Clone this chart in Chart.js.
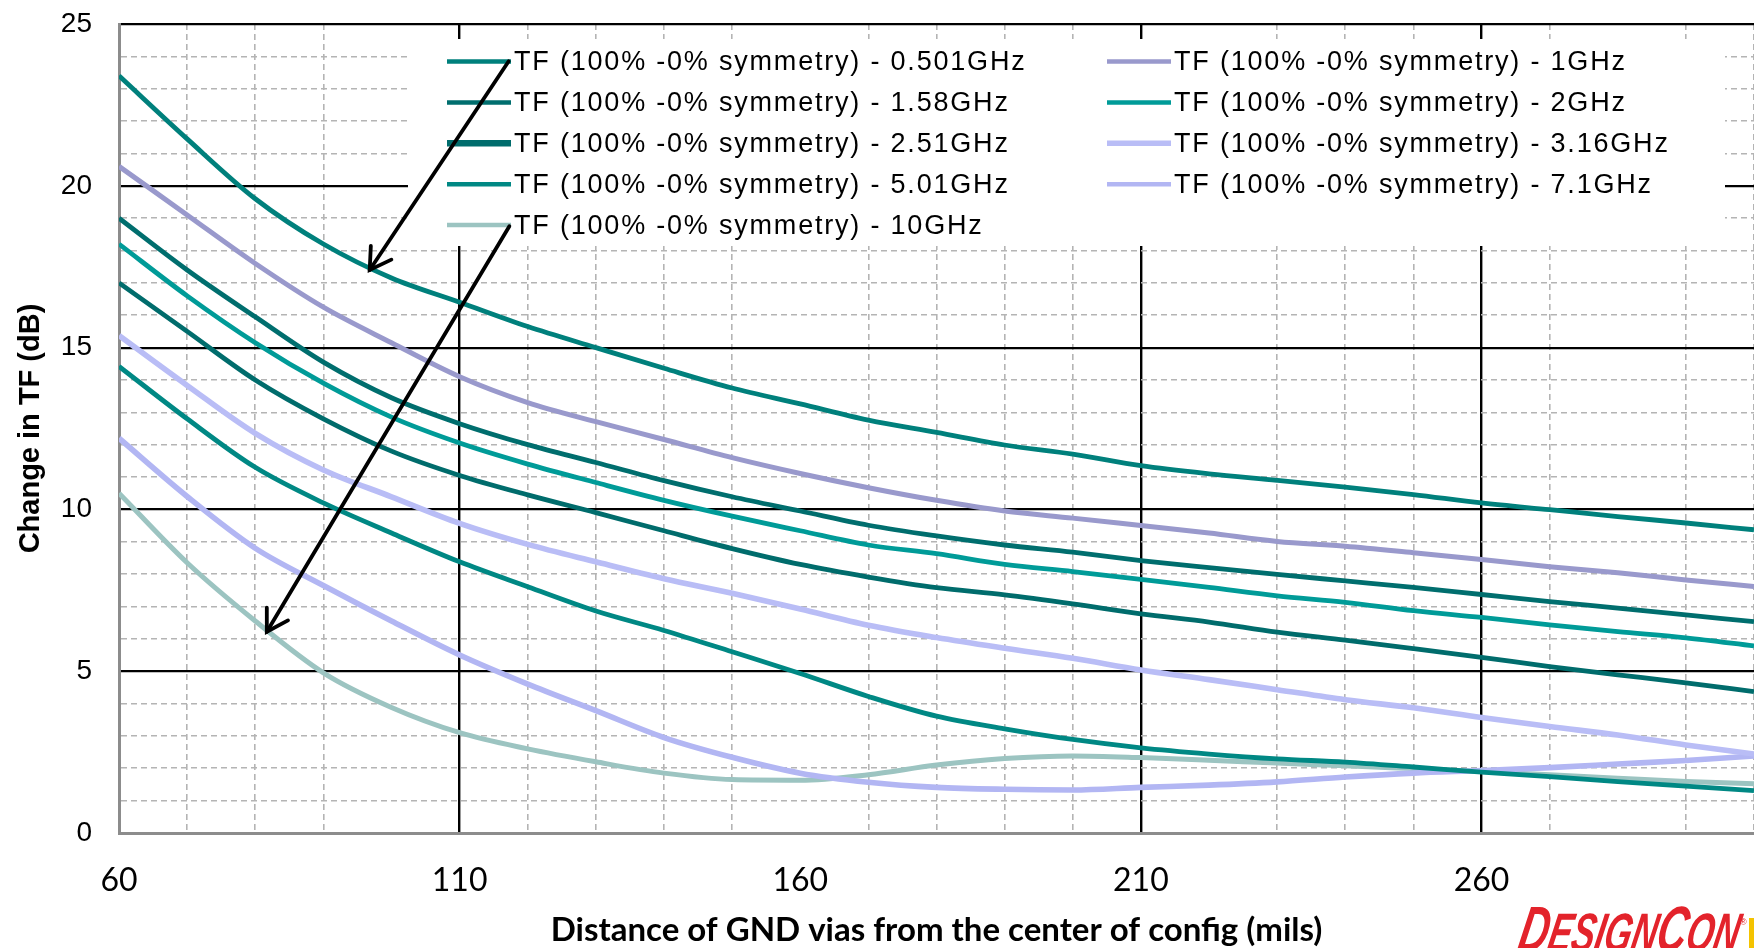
<!DOCTYPE html>
<html>
<head>
<meta charset="utf-8">
<script src="https://cdn.jsdelivr.net/npm/chart.js@4.4.0/dist/chart.umd.min.js"></script>
<style>
  html, body { margin: 0; padding: 0; background: #fff; overflow: hidden; }
  #wrap { position: relative; width: 1754px; height: 948px; }
</style>
</head>
<body>
<div id="wrap">
  <canvas id="chart" width="1754" height="948"></canvas>
</div>
<script>
// distance of GND vias (mils)
const distances = [60, 70, 80, 90, 100, 110, 120, 130, 140, 150, 160, 170, 180,
  190, 200, 210, 220, 230, 240, 250, 260, 270, 280, 290, 300];

// change in TF (dB), one array per frequency
const tf0501 = [23.4, 21.45, 19.6, 18.2, 17.15, 16.4, 15.65, 15.0, 14.36, 13.75, 13.26, 12.76, 12.38,
  11.99, 11.71, 11.35, 11.1, 10.9, 10.69, 10.46, 10.2, 9.99, 9.78, 9.58, 9.37];
const tf1 = [20.6, 19.1, 17.6, 16.25, 15.15, 14.1, 13.3, 12.71, 12.16, 11.6, 11.11, 10.67, 10.28,
  9.95, 9.73, 9.5, 9.27, 9.01, 8.86, 8.66, 8.45, 8.23, 8.04, 7.82, 7.62];
const tf158 = [19.0, 17.4, 15.95, 14.55, 13.45, 12.65, 12.0, 11.45, 10.89, 10.39, 9.95, 9.51, 9.18,
  8.9, 8.68, 8.42, 8.2, 7.99, 7.79, 7.59, 7.37, 7.15, 6.95, 6.74, 6.53];
const tf2 = [18.2, 16.6, 15.15, 13.9, 12.85, 12.05, 11.4, 10.83, 10.28, 9.79, 9.34, 8.9, 8.63,
  8.3, 8.08, 7.84, 7.59, 7.33, 7.13, 6.87, 6.66, 6.43, 6.22, 6.03, 5.78];
const tf251 = [17.0, 15.5, 14.0, 12.8, 11.8, 11.05, 10.45, 9.9, 9.34, 8.79, 8.3, 7.91, 7.58,
  7.36, 7.08, 6.77, 6.52, 6.21, 5.96, 5.7, 5.43, 5.14, 4.89, 4.64, 4.37];
const tf316 = [15.37, 13.83, 12.35, 11.22, 10.39, 9.57, 8.92, 8.38, 7.86, 7.41, 6.92, 6.42, 6.04,
  5.71, 5.4, 5.04, 4.74, 4.43, 4.12, 3.87, 3.57, 3.29, 3.03, 2.72, 2.44];
const tf501 = [14.42, 12.8, 11.3, 10.2, 9.27, 8.38, 7.61, 6.86, 6.26, 5.6, 4.93, 4.22, 3.61,
  3.22, 2.89, 2.63, 2.44, 2.29, 2.19, 2.04, 1.88, 1.74, 1.59, 1.45, 1.31];
const tf71 = [12.2, 10.4, 8.8, 7.65, 6.55, 5.5, 4.6, 3.78, 2.95, 2.34, 1.85, 1.57, 1.41,
  1.35, 1.33, 1.41, 1.48, 1.58, 1.73, 1.85, 1.93, 2.02, 2.13, 2.24, 2.38];
const tf10 = [10.5, 8.35, 6.55, 4.95, 3.88, 3.1, 2.6, 2.2, 1.85, 1.65, 1.63, 1.8, 2.1,
  2.3, 2.38, 2.33, 2.25, 2.16, 2.08, 1.99, 1.9, 1.8, 1.69, 1.59, 1.52];

const seriesLabels = [
  "TF (100% -0% symmetry) - 0.501GHz",
  "TF (100% -0% symmetry) - 1GHz",
  "TF (100% -0% symmetry) - 1.58GHz",
  "TF (100% -0% symmetry) - 2GHz",
  "TF (100% -0% symmetry) - 2.51GHz",
  "TF (100% -0% symmetry) - 3.16GHz",
  "TF (100% -0% symmetry) - 5.01GHz",
  "TF (100% -0% symmetry) - 7.1GHz",
  "TF (100% -0% symmetry) - 10GHz",
];
const seriesValues = [tf0501, tf1, tf158, tf2, tf251, tf316, tf501, tf71, tf10];

const seriesColors = ["#00807c", "#9999cc", "#006e6e", "#009b98", "#006c6c",
  "#b9bdf6", "#008884", "#b2b6f3", "#9cc4c1"];
const lineWidths = [4.8, 5, 4.8, 4.8, 4.8, 5.6, 4.8, 5.6, 5];
const legendWidths = [4.5, 4.5, 4.5, 4.5, 6.5, 5.5, 4.5, 4.5, 4.5];

// annotation arrows, in data units [distance, dB]
const arrowFrom = [[117.2, 23.85], [117.3, 18.75]];
const arrowTo = [[96.8, 17.4], [81.7, 6.22]];

// vertical grid lines that are absent in the original
const missingGridX = [100, 160, 220, 280];

const legendBox = { left: 408, top: 39, right: 1725, bottom: 246,
  colX: [447, 1107], rowY0: 61.5, rowGap: 40.9, swatch: 64 };

const boxLegend = {
  id: "boxLegend",
  beforeDatasetsDraw(chart) {
    const ctx = chart.ctx;
    ctx.save();
    ctx.fillStyle = "#fff";
    ctx.fillRect(legendBox.left, legendBox.top,
      legendBox.right - legendBox.left, legendBox.bottom - legendBox.top);
    ctx.font = '27px "Liberation Sans", Arial, sans-serif';
    if ("letterSpacing" in ctx) ctx.letterSpacing = "1.8px";
    ctx.textBaseline = "middle";
    chart.data.datasets.forEach((ds, i) => {
      const x = legendBox.colX[i % 2];
      const y = legendBox.rowY0 + Math.floor(i / 2) * legendBox.rowGap;
      ctx.strokeStyle = ds.borderColor;
      ctx.lineWidth = ds.legendWidth;
      ctx.lineCap = "butt";
      ctx.beginPath();
      ctx.moveTo(x, y);
      ctx.lineTo(x + legendBox.swatch, y);
      ctx.stroke();
      ctx.fillStyle = "#000";
      ctx.fillText(ds.label, x + legendBox.swatch + 3, y + 1);
    });
    ctx.restore();
  },
};

const arrowsAndLogo = {
  id: "arrowsAndLogo",
  afterDatasetsDraw(chart) {
    const ctx = chart.ctx;
    const xs = chart.scales.x;
    const ys = chart.scales.y;
    ctx.save();
    ctx.strokeStyle = "#000";
    ctx.lineWidth = 3.8;
    ctx.lineCap = "round";
    arrowFrom.forEach((from, i) => {
      const x1 = xs.getPixelForValue(from[0]);
      const y1 = ys.getPixelForValue(from[1]);
      const x2 = xs.getPixelForValue(arrowTo[i][0]);
      const y2 = ys.getPixelForValue(arrowTo[i][1]);
      ctx.beginPath();
      ctx.moveTo(x1, y1);
      ctx.lineTo(x2, y2);
      ctx.stroke();
      const back = Math.atan2(y1 - y2, x1 - x2);
      const spread = 0.54;
      ctx.beginPath();
      ctx.moveTo(x2 + 24 * Math.cos(back - spread), y2 + 24 * Math.sin(back - spread));
      ctx.lineTo(x2, y2);
      ctx.lineTo(x2 + 24 * Math.cos(back + spread), y2 + 24 * Math.sin(back + spread));
      ctx.stroke();
    });
    ctx.restore();
  },
  afterDraw(chart) {
    // DesignCon logo, bottom right
    const ctx = chart.ctx;
    const parts = [["D", 64], ["ESIGN", 54], ["C", 64], ["ON", 54]];
    ctx.save();
    let total = 0;
    parts.forEach((p) => {
      ctx.font = 'italic bold ' + p[1] + 'px "Liberation Sans", Arial, sans-serif';
      total += ctx.measureText(p[0]).width;
    });
    const sx = 220 / total;
    ctx.setTransform(sx, 0, -0.2, 1, 1516, 951);
    ctx.fillStyle = "#e3232b";
    let x = 0;
    parts.forEach((p) => {
      ctx.font = 'italic bold ' + p[1] + 'px "Liberation Sans", Arial, sans-serif';
      ctx.fillText(p[0], x, 0);
      x += ctx.measureText(p[0]).width;
    });
    ctx.setTransform(1, 0, 0, 1, 0, 0);
    ctx.font = '9px "Liberation Sans", Arial, sans-serif';
    ctx.fillText("®", 1740, 925);
    ctx.fillStyle = "#f4c300";
    ctx.fillRect(1749, 918, 5, 30);
    ctx.restore();
  },
};

function gridColor(isMajor, hidden) {
  if (hidden) return "rgba(0,0,0,0)";
  return isMajor ? "#000" : "#b4b4b4";
}

new Chart(document.getElementById("chart"), {
  type: "line",
  data: {
    datasets: seriesValues.map((vals, i) => ({
      label: seriesLabels[i],
      data: distances.map((d, j) => ({ x: d, y: vals[j] })),
      borderColor: seriesColors[i],
      borderWidth: lineWidths[i],
      legendWidth: legendWidths[i],
      pointRadius: 0,
      cubicInterpolationMode: "monotone",
      fill: false,
    })),
  },
  options: {
    responsive: false,
    animation: false,
    devicePixelRatio: 1,
    layout: { padding: { top: 24, right: 0, bottom: 0, left: 0 } },
    plugins: { legend: { display: false }, tooltip: { enabled: false } },
    scales: {
      x: {
        type: "linear",
        min: 60,
        max: 300,
        afterFit: (s) => { s.height = 115; s.paddingLeft = 0; s.paddingRight = 0; },
        ticks: {
          stepSize: 10,
          autoSkip: false,
          maxRotation: 0,
          padding: 28,
          color: "#000",
          font: { family: "Lato", size: 32 },
          callback: (v) => ((v - 60) % 50 === 0 ? String(v) : ""),
        },
        grid: {
          drawTicks: false,
          color: (c) => gridColor((c.tick.value - 60) % 50 === 0,
            c.tick.value === 60 || missingGridX.includes(c.tick.value)),
          lineWidth: (c) => ((c.tick.value - 60) % 50 === 0 ? 2.4 : 1.6),
        },
        border: {
          color: "#8c8c8c",
          width: 3,
          dash: (c) => (c.tick && (c.tick.value - 60) % 50 !== 0 ? [6, 4] : []),
        },
        title: {
          display: true,
          text: "Distance of GND vias from the center of config (mils)",
          color: "#000",
          font: { family: "Lato", size: 33, weight: "bold" },
          padding: { top: 0, bottom: -2 },
        },
      },
      y: {
        min: 0,
        max: 25,
        afterFit: (s) => { s.width = 119; s.paddingTop = 0; s.paddingBottom = 0; },
        ticks: {
          stepSize: 1,
          autoSkip: false,
          padding: 27,
          color: "#000",
          font: { family: '"Liberation Sans", Arial, sans-serif', size: 28 },
          callback: (v) => (v % 5 === 0 ? String(v) : ""),
        },
        grid: {
          drawTicks: false,
          color: (c) => gridColor(c.tick.value % 5 === 0, c.tick.value === 0),
          lineWidth: (c) => (c.tick.value % 5 === 0 ? 2.2 : 1.6),
        },
        border: {
          color: "#8c8c8c",
          width: 3,
          dash: (c) => (c.tick && c.tick.value % 5 !== 0 ? [6, 4] : []),
        },
        title: {
          display: true,
          text: "Change in TF (dB)",
          color: "#000",
          font: { family: '"Liberation Sans", Arial, sans-serif', size: 29, weight: "bold" },
          padding: { top: 14, bottom: 0 },
        },
      },
    },
  },
  plugins: [boxLegend, arrowsAndLogo],
});
</script>
</body>
</html>
